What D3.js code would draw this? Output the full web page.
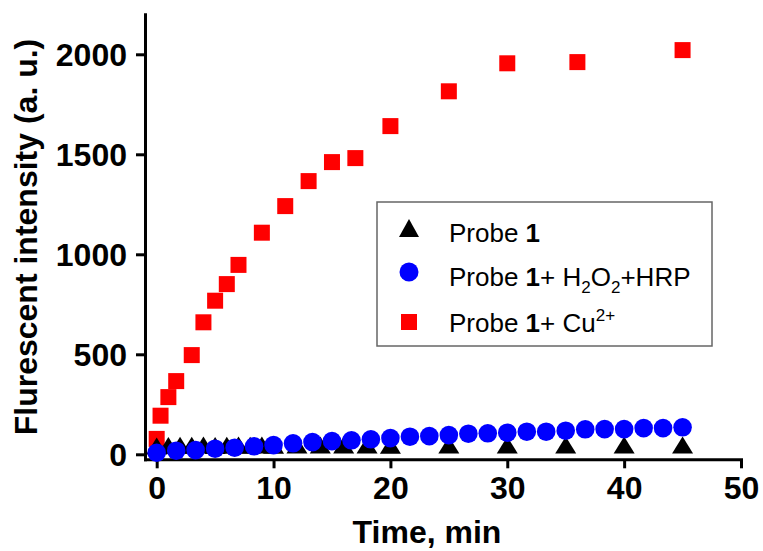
<!DOCTYPE html>
<html>
<head>
<meta charset="utf-8">
<script src="https://cdn.jsdelivr.net/npm/d3@7"></script>
<style>
  body { margin: 0; background: #fff; }
  text { font-family: "Liberation Sans", Arial, sans-serif; }
</style>
</head>
<body>
<script>
// probe 1 alone
const probeT = [0, 1, 2, 3, 4, 5, 6, 7, 8, 9, 10, 12, 14, 16, 18, 20, 25, 30, 35, 40, 45];
const probeV = [42, 44, 45, 45, 46, 44, 45, 46, 45, 46, 45, 47, 46, 47, 46, 45, 47, 46, 46, 47, 46];

// probe 1 + H2O2 + HRP (every 100 s)
const hrpT = [0, 1.67, 3.33, 5, 6.67, 8.33, 10, 11.67, 13.33, 15, 16.67, 18.33, 20, 21.67,
  23.33, 25, 26.67, 28.33, 30, 31.67, 33.33, 35, 36.67, 38.33, 40, 41.67, 43.33, 45];
const hrpV = [8, 18, 21, 28, 33, 40, 46, 55, 61, 66, 70, 75, 81, 88,
  91, 96, 103, 105, 108, 113, 113, 118, 125, 126, 126, 131, 131, 135];

// probe 1 + Cu2+
const cuT = [0, 0.33, 1, 1.67, 3, 4, 5, 6, 7, 9, 11, 13, 15, 17, 20, 25, 30, 36, 45];
const cuV = [77, 193, 286, 366, 496, 660, 768, 851, 947, 1108, 1241, 1366, 1461, 1481, 1641, 1815, 1955, 1961, 2021];

const xTicks = [0, 10, 20, 30, 40, 50];
const yTicks = [0, 500, 1000, 1500, 2000];

const width = 763, height = 551;

const svg = d3.select("body").append("svg")
  .attr("width", width)
  .attr("height", height);

const x = d3.scaleLinear().domain([-1, 50]).range([145, 741]);
const y = d3.scaleLinear().domain([-25, 2200]).range([459.3, 14.3]);

// axes
const xAxis = svg.append("g")
  .attr("transform", `translate(0,${y(-25)})`)
  .call(d3.axisBottom(x).tickValues(xTicks).tickFormat(d3.format("d"))
    .tickSize(9).tickSizeOuter(0).tickPadding(8));

const yAxis = svg.append("g")
  .attr("transform", `translate(${x(-1)},0)`)
  .call(d3.axisLeft(y).tickValues(yTicks).tickFormat(d3.format("d"))
    .tickSize(9).tickSizeOuter(0).tickPadding(9));

[xAxis, yAxis].forEach(g => {
  g.select(".domain").attr("stroke", "#000").attr("stroke-width", 3).attr("stroke-linecap", "square");
  g.selectAll(".tick line").attr("stroke", "#000").attr("stroke-width", 3);
  g.selectAll(".tick text")
    .attr("fill", "#000")
    .style("font-family", "'Liberation Sans', Arial, sans-serif")
    .style("font-size", "32px")
    .style("font-weight", "bold");
});
yAxis.selectAll(".tick text").attr("dy", "0.36em");

// axis titles
svg.append("text")
  .attr("x", 427)
  .attr("y", 543)
  .attr("text-anchor", "middle")
  .style("font-size", "32px")
  .style("font-weight", "bold")
  .text("Time, min");

svg.append("text")
  .attr("transform", "translate(37,237) rotate(-90)")
  .attr("text-anchor", "middle")
  .style("font-size", "32px")
  .style("font-weight", "bold")
  .text("Flurescent intensity (a. u.)");

// markers
const triPath = "M0,-8.5L10.5,8.5L-10.5,8.5Z";
const sq = 16;

svg.append("g").selectAll("rect")
  .data(cuT.map((t, i) => [t, cuV[i]]))
  .enter().append("rect")
  .attr("x", d => x(d[0]) - sq / 2)
  .attr("y", d => y(d[1]) - sq / 2)
  .attr("width", sq)
  .attr("height", sq)
  .attr("fill", "#ff0000");

svg.append("g").selectAll("path")
  .data(probeT.map((t, i) => [t, probeV[i]]))
  .enter().append("path")
  .attr("d", triPath)
  .attr("transform", d => `translate(${x(d[0])},${y(d[1])})`)
  .attr("fill", "#000");

svg.append("g").selectAll("circle")
  .data(hrpT.map((t, i) => [t, hrpV[i]]))
  .enter().append("circle")
  .attr("cx", d => x(d[0]))
  .attr("cy", d => y(d[1]))
  .attr("r", 9.3)
  .attr("fill", "#0000ff");

// legend
const legend = svg.append("g");
legend.append("rect")
  .attr("x", 377).attr("y", 202)
  .attr("width", 335).attr("height", 144)
  .attr("fill", "#fff")
  .attr("stroke", "#666")
  .attr("stroke-width", 1.5);

legend.append("path")
  .attr("d", "M0,-9L10,9L-10,9Z")
  .attr("transform", "translate(409,228)")
  .attr("fill", "#000");
legend.append("circle")
  .attr("cx", 409).attr("cy", 272).attr("r", 9.5)
  .attr("fill", "#0000ff");
legend.append("rect")
  .attr("x", 401).attr("y", 314).attr("width", 16).attr("height", 16)
  .attr("fill", "#ff0000");

const fs = 26;
const t1 = legend.append("text").attr("x", 449).attr("y", 242).style("font-size", fs + "px");
t1.append("tspan").text("Probe ");
t1.append("tspan").style("font-weight", "bold").text("1");

const t2 = legend.append("text").attr("x", 449).attr("y", 286).style("font-size", fs + "px");
t2.append("tspan").text("Probe ");
t2.append("tspan").style("font-weight", "bold").text("1");
t2.append("tspan").text("+ H");
t2.append("tspan").attr("dy", 7).style("font-size", "17px").text("2");
t2.append("tspan").attr("dy", -7).text("O");
t2.append("tspan").attr("dy", 7).style("font-size", "17px").text("2");
t2.append("tspan").attr("dy", -7).text("+HRP");

const t3 = legend.append("text").attr("x", 449).attr("y", 332).style("font-size", fs + "px");
t3.append("tspan").text("Probe ");
t3.append("tspan").style("font-weight", "bold").text("1");
t3.append("tspan").text("+ Cu");
t3.append("tspan").attr("dy", -11).style("font-size", "17px").text("2+");
</script>
</body>
</html>
